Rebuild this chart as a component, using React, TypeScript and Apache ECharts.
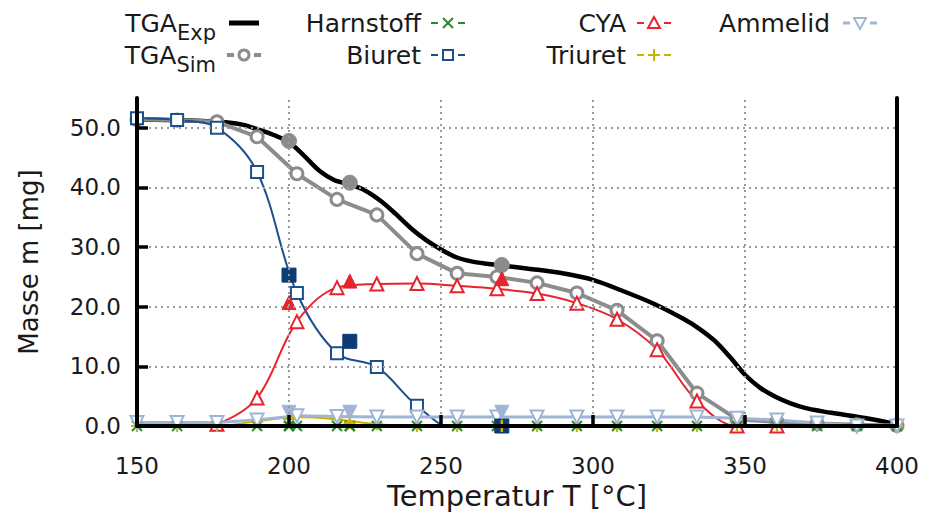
import React, { useEffect, useRef } from 'react';
import * as echarts from 'echarts';

// ---------- data ----------
const simTemps = [150.0, 163.2, 176.3, 189.5, 202.6, 215.8, 228.9, 242.1, 255.3, 268.4, 281.6, 294.7, 307.9, 321.1, 334.2, 347.4, 360.5, 373.7, 386.8, 400.0];
const tgaSim = [51.4, 51.3, 51.0, 48.5, 42.3, 38.0, 35.4, 28.9, 25.6, 25.0, 24.0, 22.3, 19.4, 14.3, 5.5, 1.1, 0.7, 0.4, 0.2, 0.1];
const harnstoff = [0, 0, 0, 0, 0, 0, 0, 0, 0, 0, 0, 0, 0, 0, 0, 0, 0, 0, 0, 0];
const biuret = [51.6, 51.3, 50.0, 42.6, 22.3, 12.2, 9.9, 3.4, -0.6, -0.6, -0.6, -0.6, -0.6, -0.6, -0.6, -0.6, -0.6, -0.6, -0.6, -0.6];
const cya = [-0.6, -0.6, 0.3, 4.7, 17.5, 23.2, 23.8, 23.9, 23.5, 23.0, 22.2, 20.6, 17.9, 12.8, 4.2, 0, 0, -0.6, -0.6, -0.6];
const triuret = [0, 0, 0, 0.8, 1.5, 1.1, 0.3, 0, 0, 0, 0, 0, 0, 0, 0, 0, 0, 0, 0, 0];
const ammelid = [0.6, 0.6, 0.6, 1.0, 1.7, 1.6, 1.5, 1.5, 1.5, 1.5, 1.5, 1.5, 1.5, 1.5, 1.5, 1.3, 1.0, 0.5, 0, 0];

const expTemps = [150, 160, 170, 180, 185, 190, 195, 200, 205, 210, 215, 220, 225, 230, 235, 240, 245, 250, 255, 260, 265, 270, 280, 290, 300, 310, 320, 330, 335, 340, 345, 350, 355, 360, 365, 370, 375, 380, 390, 400];
const tgaExp = [51.4, 51.3, 51.2, 50.9, 50.5, 49.7, 48.8, 47.6, 45.3, 42.8, 41.2, 40.5, 39.5, 37.8, 35.6, 33.2, 31.2, 29.6, 28.3, 27.6, 27.2, 26.9, 26.3, 25.6, 24.5, 22.6, 20.5, 17.9, 16.3, 14.3, 11.6, 8.6, 6.4, 4.9, 3.8, 3.0, 2.5, 2.1, 1.3, 0.3];

const sampleTemps = [200, 220, 270];
const tgaExpPts = [47.8, 40.8, 27.0];
const harnstoffPts = [0, 0, 0];
const biuretPts = [25.3, 14.2, 0];
const cyaPts = [20.7, 24.3, 24.7];
const triuretPts = [1.2, 0.5, 0];
const ammelidPts = [2.3, 2.3, 2.3];

const yLabelValues = [0, 10, 20, 30, 40, 50];
const yTickValues = [10, 20, 30, 40, 50];
const xGridValues = [200, 250, 300, 350];
const yGridValues = [10, 20, 30, 40, 50];

// ---------- styling ----------
const FAM = '"DejaVu Sans", Verdana, sans-serif';
const COL = {
  exp: '#000000',
  sim: '#8c8c8c',
  harn: '#2a8a2a',
  biu: '#1c4f8c',
  biuFill: '#0d3b73',
  cya: '#e8232d',
  tri: '#c8b400',
  amm: '#9fb5d3',
};
const X_PATH = 'path://M0,0L10,10M10,0L0,10';
const PLUS_PATH = 'path://M5,0L5,10M0,5L10,5';

const pairs = (xs: number[], ys: number[]) => xs.map((x, i) => [x, ys[i]]);

function measure(text: string, size: number): number {
  const c = document.createElement('canvas').getContext('2d');
  if (!c) return text.length * size * 0.6;
  c.font = `${size}px "DejaVu Sans"`;
  return c.measureText(text).width;
}

type Sym = 'exp' | 'sim' | 'harn' | 'biu' | 'cya' | 'tri' | 'amm';
const legendLayout: { main: string; sub?: string; right: number; y: number; sym: Sym; sx: number }[] = [
  { main: 'TGA', sub: 'Exp', right: 216, y: 23, sym: 'exp', sx: 244 },
  { main: 'TGA', sub: 'Sim', right: 216, y: 55, sym: 'sim', sx: 244 },
  { main: 'Harnstoff', right: 421, y: 23, sym: 'harn', sx: 448 },
  { main: 'Biuret', right: 421, y: 55, sym: 'biu', sx: 448 },
  { main: 'CYA', right: 626, y: 23, sym: 'cya', sx: 654 },
  { main: 'Triuret', right: 626, y: 55, sym: 'tri', sx: 654 },
  { main: 'Ammelid', right: 830, y: 23, sym: 'amm', sx: 860 },
];

function legendGraphics() {
  const out: any[] = [];
  const MAIN = 25;
  const SUB = 21;
  legendLayout.forEach((it) => {
    let right = it.right;
    if (it.sub) {
      const sw = measure(it.sub, SUB);
      out.push({
        type: 'text', x: right - sw, y: it.y + 10,
        style: { text: it.sub, font: `${SUB}px ${FAM}`, fill: '#1a1a1a', align: 'left', verticalAlign: 'middle' },
      });
      right -= sw;
    }
    out.push({
      type: 'text', x: right, y: it.y,
      style: { text: it.main, font: `${MAIN}px ${FAM}`, fill: '#1a1a1a', align: 'right', verticalAlign: 'middle' },
    });
    const cx = it.sx;
    const cy = it.y;
    const color = COL[it.sym];
    if (it.sym === 'exp') {
      out.push({ type: 'line', shape: { x1: cx - 15, y1: cy, x2: cx + 15, y2: cy }, style: { stroke: color, lineWidth: 5 } });
      return;
    }
    const lw = it.sym === 'sim' ? 4 : it.sym === 'amm' ? 3 : 2;
    out.push({ type: 'line', shape: { x1: cx - 17, y1: cy, x2: cx - 10, y2: cy }, style: { stroke: color, lineWidth: lw } });
    out.push({ type: 'line', shape: { x1: cx + 10, y1: cy, x2: cx + 17, y2: cy }, style: { stroke: color, lineWidth: lw } });
    if (it.sym === 'sim') {
      out.push({ type: 'circle', shape: { cx, cy, r: 5 }, style: { fill: '#fff', stroke: color, lineWidth: 3 } });
    } else if (it.sym === 'biu') {
      out.push({ type: 'rect', shape: { x: cx - 5, y: cy - 5, width: 10, height: 10 }, style: { fill: '#fff', stroke: color, lineWidth: 2 } });
    } else if (it.sym === 'cya') {
      out.push({ type: 'polygon', shape: { points: [[cx, cy - 6], [cx - 6, cy + 5], [cx + 6, cy + 5]] }, style: { fill: '#fff', stroke: color, lineWidth: 2 } });
    } else if (it.sym === 'amm') {
      out.push({ type: 'polygon', shape: { points: [[cx - 6, cy - 5], [cx + 6, cy - 5], [cx, cy + 6]] }, style: { fill: '#fff', stroke: color, lineWidth: 2 } });
    } else if (it.sym === 'harn') {
      out.push({ type: 'line', shape: { x1: cx - 5, y1: cy - 5, x2: cx + 5, y2: cy + 5 }, style: { stroke: color, lineWidth: 2 } });
      out.push({ type: 'line', shape: { x1: cx - 5, y1: cy + 5, x2: cx + 5, y2: cy - 5 }, style: { stroke: color, lineWidth: 2 } });
    } else if (it.sym === 'tri') {
      out.push({ type: 'line', shape: { x1: cx - 6, y1: cy, x2: cx + 6, y2: cy }, style: { stroke: color, lineWidth: 2 } });
      out.push({ type: 'line', shape: { x1: cx, y1: cy - 6, x2: cx, y2: cy + 6 }, style: { stroke: color, lineWidth: 2 } });
    }
  });
  return out;
}

function openLine(name: string, ys: number[], color: string, symbol: string, size: number, lineWidth: number, borderWidth: number, smooth: number | boolean, extra: any = {}) {
  return {
    type: 'line', name,
    data: pairs(simTemps, ys),
    symbol, symbolSize: size, showSymbol: true, showAllSymbol: true,
    smooth,
    lineStyle: { color, width: lineWidth },
    itemStyle: { color: '#ffffff', borderColor: color, borderWidth, opacity: 1 },
    emphasis: { disabled: true },
    ...extra,
  };
}

function filledPts(name: string, ys: number[], color: string, symbol: string, size: number, extra: any = {}) {
  return {
    type: 'scatter', name: name + ' (Exp)',
    data: pairs(sampleTemps, ys),
    symbol, symbolSize: size,
    itemStyle: { color, borderColor: color, borderWidth: 1, opacity: 1 },
    emphasis: { disabled: true },
    z: 3,
    ...extra,
  };
}

export default function App() {
  const ref = useRef<HTMLDivElement>(null);
  useEffect(() => {
    if (!ref.current) return;
    const chart = echarts.init(ref.current, undefined, { renderer: 'svg' });
    const option: any = {
      animation: false,
      backgroundColor: '#ffffff',
      textStyle: { fontFamily: FAM },
      grid: { left: 137, top: 98, width: 760, height: 328, containLabel: false },
      xAxis: {
        type: 'value', min: 150, max: 400, interval: 50, z: 5,
        axisLine: { show: true, onZero: false, lineStyle: { color: '#000', width: 4 } },
        axisTick: { show: true, inside: true, length: 11, lineStyle: { color: '#000', width: 3.5 } },
        axisLabel: { color: '#1a1a1a', fontSize: 23, fontFamily: FAM, margin: 28 },
        splitLine: { show: false },
      },
      yAxis: [
        {
          type: 'value', min: 0, max: 55, z: 5,
          axisLine: { show: true, onZero: false, lineStyle: { color: '#000', width: 4 } },
          axisTick: { show: true, inside: true, length: 11, customValues: yTickValues, lineStyle: { color: '#000', width: 3.5 } },
          axisLabel: { color: '#1a1a1a', fontSize: 23, fontFamily: FAM, margin: 16, customValues: yLabelValues, formatter: (v: number) => v.toFixed(1) },
          splitLine: { show: false },
        },
        {
          type: 'value', min: 0, max: 55, position: 'right', z: 5,
          axisLine: { show: true, onZero: false, lineStyle: { color: '#000', width: 4 } },
          axisTick: { show: false }, axisLabel: { show: false }, splitLine: { show: false },
        },
      ],
      series: [
        {
          type: 'line', name: 'TGA Exp', data: pairs(expTemps, tgaExp), symbol: 'none', smooth: 0.3,
          lineStyle: { color: COL.exp, width: 4.5 }, emphasis: { disabled: true },
        },
        openLine('TGA Sim', tgaSim, COL.sim, 'circle', 12, 4, 3, false),
        openLine('Harnstoff', harnstoff, COL.harn, X_PATH, 10, 2, 2, 0.3),
        openLine('Biuret', biuret, COL.biu, 'rect', 12, 2, 2, 0.35),
        openLine('CYA', cya, COL.cya, 'triangle', 13, 2, 2, 0.35),
        openLine('Triuret', triuret, COL.tri, PLUS_PATH, 12, 2, 2, 0.3),
        openLine('Ammelid', ammelid, COL.amm, 'triangle', 13, 3, 2, false, { symbolRotate: 180 }),
        filledPts('TGA Exp', tgaExpPts, COL.sim, 'circle', 15),
        filledPts('Harnstoff', harnstoffPts, COL.harn, X_PATH, 10, { itemStyle: { color: COL.harn, borderColor: COL.harn, borderWidth: 2.5, opacity: 1 } }),
        filledPts('Biuret', biuretPts, COL.biuFill, 'rect', 14),
        filledPts('CYA', cyaPts, COL.cya, 'triangle', 14),
        filledPts('Triuret', triuretPts, COL.tri, PLUS_PATH, 12, { itemStyle: { color: COL.tri, borderColor: COL.tri, borderWidth: 2.5, opacity: 1 } }),
        filledPts('Ammelid', ammelidPts, COL.amm, 'triangle', 14, { symbolRotate: 180 }),
        {
          type: 'line', name: 'grid', data: [[150, 0]], symbol: 'none', silent: true, z: 4,
          lineStyle: { width: 0, opacity: 0 },
          markLine: {
            silent: true, symbol: 'none', label: { show: false },
            lineStyle: { type: [2, 4], color: '#9a9a9a', width: 2 },
            emphasis: { disabled: true },
            data: [
              ...xGridValues.map((v) => ({ xAxis: v })),
              ...yGridValues.map((v) => ({ yAxis: v })),
            ],
          },
        },
      ],
      graphic: [
        ...legendGraphics(),
        {
          type: 'text', x: 517, y: 496,
          style: { text: 'Temperatur T [°C]', font: `29px ${FAM}`, fill: '#1a1a1a', align: 'center', verticalAlign: 'middle' },
        },
        {
          type: 'text', x: 29, y: 262, rotation: Math.PI / 2,
          style: { text: 'Masse m [mg]', font: `26px ${FAM}`, fill: '#1a1a1a', align: 'center', verticalAlign: 'middle' },
        },
      ],
    };
    chart.setOption(option);
    return () => chart.dispose();
  }, []);
  return <div ref={ref} style={{ position: 'absolute', left: 0, top: 0, width: 930, height: 520 }} />;
}
